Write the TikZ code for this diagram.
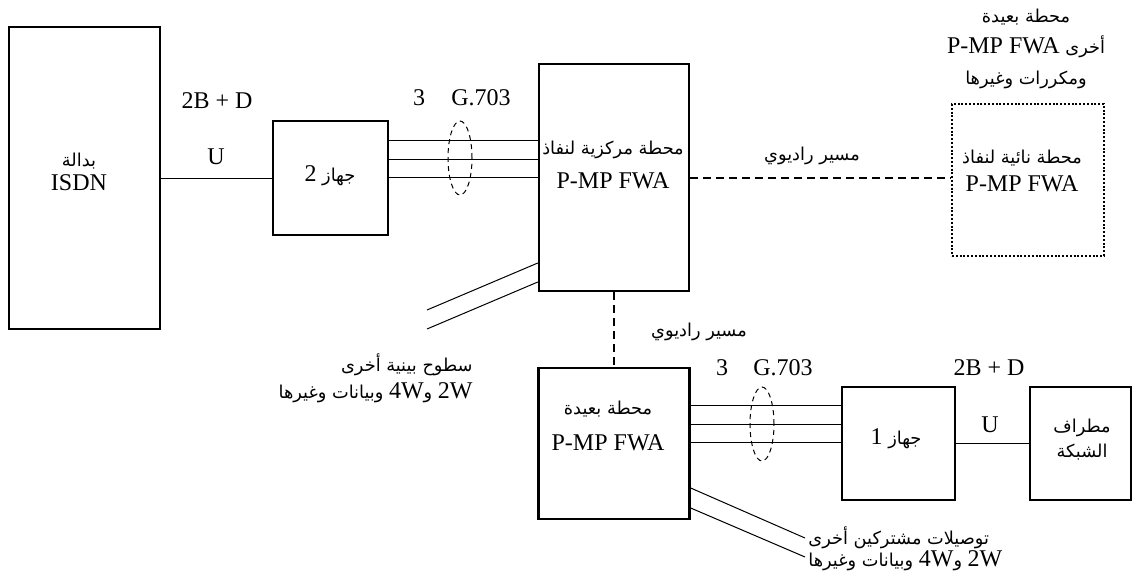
\documentclass[tikz,border=0pt]{standalone}
\usepackage{fontspec}
\setmainfont{Liberation Serif}
\newfontfamily\arabicfont[Script=Arabic,Scale=0.74]{DejaVu Sans}
\TeXXeTstate=1
\newcommand{\artext}[1]{{\arabicfont\beginR #1\endR}}
\newcommand{\lattext}[1]{\beginL{\normalfont #1}\endL{}}
\usetikzlibrary{shapes.geometric}
\tikzset{
  box/.style={draw, line width=1.2pt, inner sep=0pt},
  dotbox/.style={draw, line width=1.4pt, dash pattern=on 1pt off 0.9pt, inner sep=0pt},
  wire/.style={line width=0.5pt},
  radio/.style={line width=1pt, dash pattern=on 4pt off 2.5pt},
  bundle/.style={draw, ellipse, line width=0.5pt, dash pattern=on 2.5pt off 2pt,
    minimum width=12pt, minimum height=37pt, inner sep=0pt},
  txt/.style={inner sep=0pt, align=center, font=\fontsize{12}{#1}\selectfont},
  txt/.default=15pt
}
\begin{document}
\begin{tikzpicture}[x=0.5pt,y=0.5pt,yscale=-1]
\useasboundingbox (0,0) rectangle (1136,574);
% boxes
\node[box, minimum width=75.5pt, minimum height=151pt] (isdn) at (84.5,178) {};
\node[box, minimum width=57.5pt, minimum height=57pt] (dev2) at (330.5,178) {};
\node[box, minimum width=75pt, minimum height=113.5pt] (central) at (614,177.5) {};
\node[dotbox, minimum width=76pt, minimum height=76pt] (remote) at (1028,180) {};
\node[box, minimum width=75.5pt, minimum height=75.5pt] (rstation) at (614,443.5) {};
\node[box, minimum width=56.5pt, minimum height=56.5pt] (dev1) at (898.5,443.5) {};
\node[box, minimum width=50.5pt, minimum height=56.5pt] (term) at (1080.5,443.5) {};
% box texts
\node[txt=12pt] (isdntxt) at (79,172) {\artext{بدالة}\\ISDN};
\node[txt] (dev2txt) at (330,176) {\artext{جهاز \lattext{2}}};
\node[txt=17pt] (centraltxt) at (613,165) {\artext{محطة مركزية لنفاذ}\\P-MP FWA};
\node[txt=14pt] (remotetxt) at (1022,171) {\artext{محطة نائية لنفاذ}\\P-MP FWA};
\node[txt=18pt] (rstationtxt) at (608,426) {\artext{محطة بعيدة}\\P-MP FWA};
\node[txt] (dev1txt) at (896,439) {\artext{جهاز \lattext{1}}};
\node[txt=12.5pt] (termtxt) at (1082,439.5) {\artext{مطراف}\\\artext{الشبكة}};
% links
\draw[wire] (isdn.east) -- (dev2.west);
\draw[wire] (dev1.east) -- (term.west);
\foreach \s [count=\i] in {-19,-9.5,-0.5} {
  \coordinate (ta\i) at ([yshift=\s pt]dev2.east);
  \draw[wire] (ta\i) -- (ta\i -| central.west);
  \coordinate (tb\i) at ([yshift=\s pt]rstation.east);
  \draw[wire] (tb\i) -- (tb\i -| dev1.west);
}
\node[bundle] (bundle2) at (460,158) {};
\node[bundle] (bundle1) at (762,424) {};
\draw[radio] (central.east) -- (central.east -| remote.west);
\draw[radio] (central.south) -- (rstation.north);
% other interfaces
\coordinate (oi1) at (427,310);
\coordinate (oi2) at (427,329);
\draw[wire] ([yshift=42.75pt]central.west) -- (oi1);
\draw[wire] ([yshift=52.25pt]central.west) -- (oi2);
\coordinate (os1) at (805,538);
\coordinate (os2) at (805,557);
\draw[wire] ([yshift=22.25pt]rstation.east) -- (os1);
\draw[wire] ([yshift=32.25pt]rstation.east) -- (os2);
% labels
\node[txt] (bd2) at (217,101) {2B + D};
\node[txt] (u2) at (216,157) {U};
\node[txt] (n3a) at (419,98) {3};
\node[txt] (g703a) at (481,98) {G.703};
\node[txt] (radioa) at (812,156) {\artext{مسير راديوي}};
\node[txt=15.5pt] (otherfwa) at (1026,49) {\artext{محطة بعيدة}\\\artext{أخرى \lattext{P-MP FWA}}\\\artext{ومكررات وغيرها}};
\node[txt=13.5pt, align=right, anchor=east] (othif) at (473,378.5) {\artext{سطوح بينية أخرى}\\\artext{\lattext{2W} و\lattext{4W} وبيانات وغيرها}};
\node[txt] (radiob) at (699,332) {\artext{مسير راديوي}};
\node[txt] (n3b) at (722,368) {3};
\node[txt] (g703b) at (783,368) {G.703};
\node[txt] (bd1) at (989,368) {2B + D};
\node[txt] (u1) at (990,425) {U};
\node[txt=11pt, align=left, anchor=west] (othsub) at (808,549) {\artext{توصيلات مشتركين أخرى}\\\artext{\lattext{2W} و\lattext{4W} وبيانات وغيرها}};
\end{tikzpicture}
\end{document}
